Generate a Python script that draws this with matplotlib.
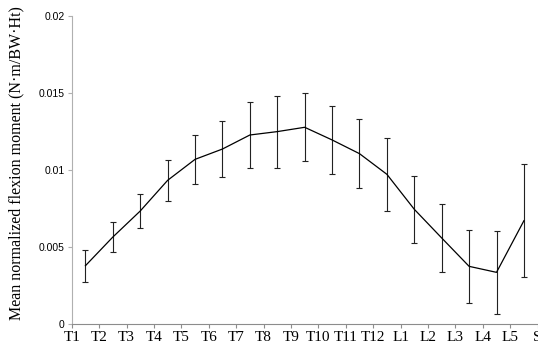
import numpy as np
import matplotlib
matplotlib.use("Agg")
import matplotlib.pyplot as plt

# vertebral levels (tick labels) and mean moments with SD
levels = ["T1", "T2", "T3", "T4", "T5", "T6", "T7", "T8", "T9", "T10",
          "T11", "T12", "L1", "L2", "L3", "L4", "L5", "S"]
mean_moment = [0.00378, 0.00564, 0.00733, 0.00932, 0.01068, 0.01135, 0.01226,
               0.01248, 0.01276, 0.01194, 0.01105, 0.00971, 0.00744, 0.00558,
               0.00374, 0.00335, 0.00670]
sd_moment = [0.00105, 0.00100, 0.00111, 0.00132, 0.00157, 0.00183, 0.00211,
             0.00233, 0.00220, 0.00222, 0.00225, 0.00235, 0.00218, 0.00222,
             0.00238, 0.00271, 0.00365]
yticks = [0, 0.005, 0.01, 0.015, 0.02]
ytick_labels = ["0", "0.005", "0.01", "0.015", "0.02"]

fig = plt.figure(figsize=(5.38, 3.47), dpi=100)
ax = fig.add_axes([0.1333, 0.0663, 0.866, 0.8885])

x = np.arange(len(mean_moment)) + 0.5
ax.errorbar(x, mean_moment, yerr=sd_moment, color="black", lw=0.9,
            elinewidth=0.8, ecolor="#222222", capsize=2.2, capthick=0.8)

ax.set_xlim(0, len(levels) - 1)
ax.set_ylim(0, 0.02)
ax.set_xticks(np.arange(len(levels)))
ax.set_xticklabels(levels, family="Liberation Serif", fontsize=11)
ax.set_yticks(yticks)
ax.set_yticklabels(ytick_labels, family="Liberation Sans", fontsize=7.5)

ax.spines["top"].set_visible(False)
ax.spines["right"].set_visible(False)
ax.spines["left"].set_color("#b0b0b0")
ax.spines["bottom"].set_color("#8c8c8c")
ax.tick_params(axis="y", length=3, color="#b0b0b0", pad=2)
ax.tick_params(axis="x", length=3, color="#8c8c8c", pad=2)

ax.set_ylabel("Mean normalized flexion moment (N\u00b7m/BW\u00b7Ht)",
              family="Liberation Serif", fontsize=11.5)
ax.yaxis.set_label_coords(-0.1006, 0.521)

fig.savefig("out.png", dpi=100)
